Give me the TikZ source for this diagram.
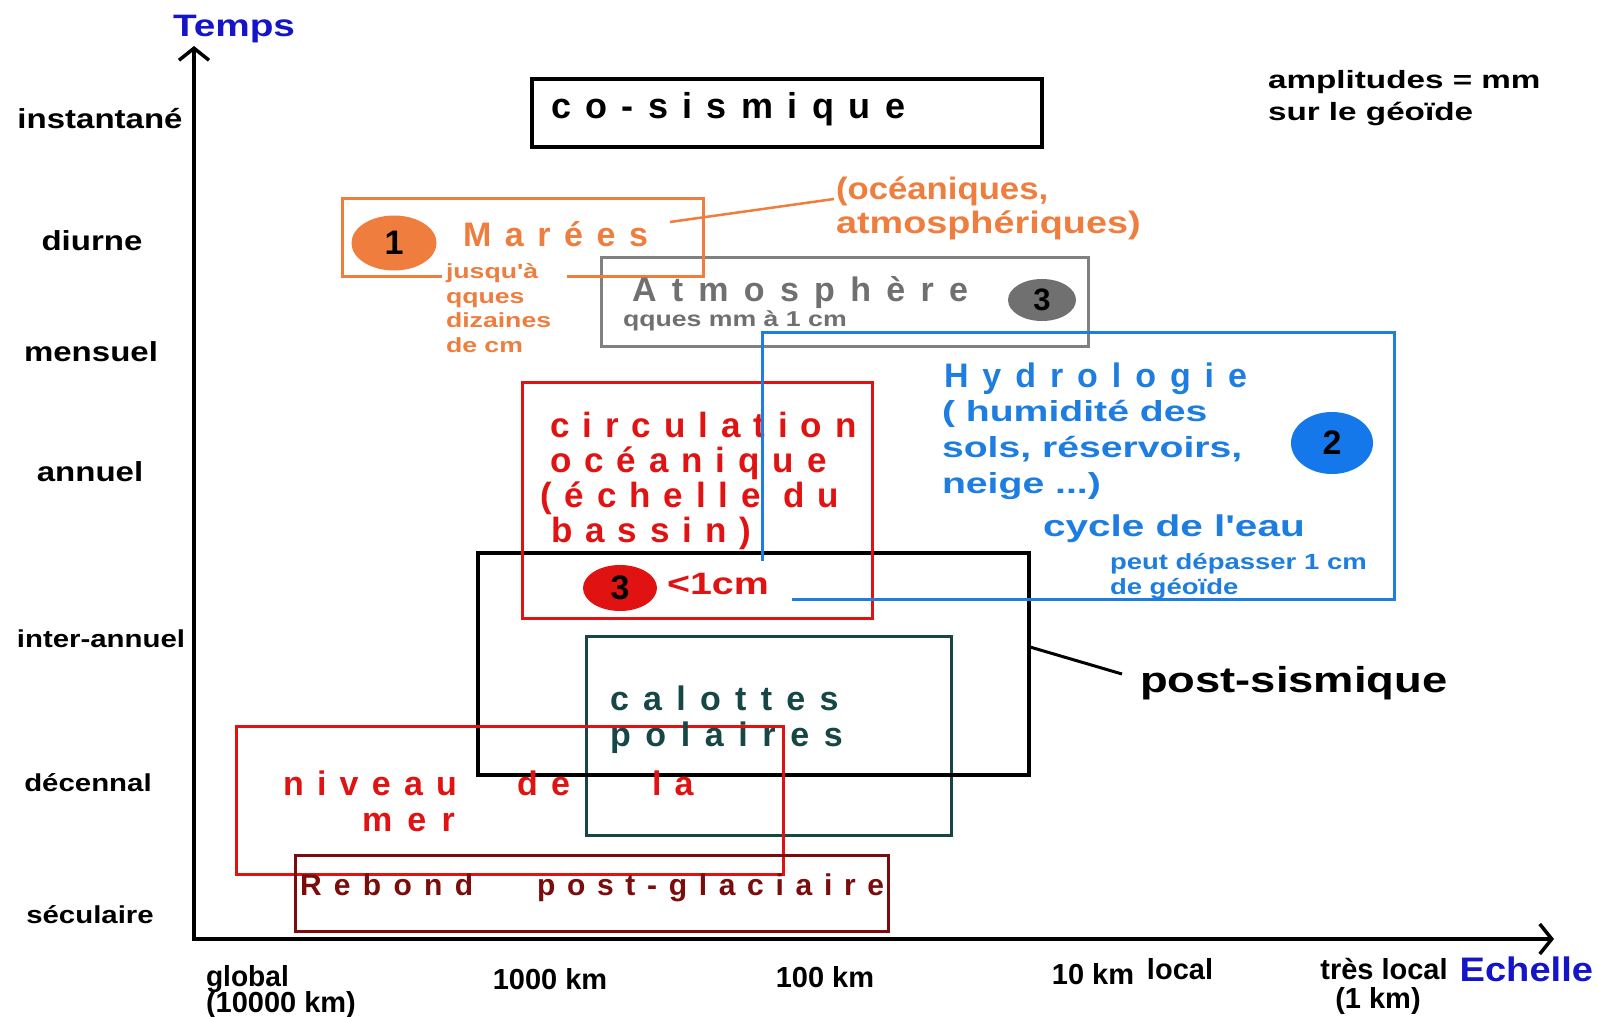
\documentclass[tikz,border=0pt]{standalone}
\usepackage{fontspec}
\setmainfont{Liberation Sans}[Ligatures=TeXOff]
\usetikzlibrary{arrows.meta,shapes.geometric}
\definecolor{oran}{RGB}{238,125,62}
\definecolor{grayb}{RGB}{128,128,128}
\definecolor{grayt}{RGB}{112,112,112}
\definecolor{blu}{RGB}{30,125,225}
\definecolor{blud}{RGB}{20,120,235}
\definecolor{redd}{RGB}{225,18,18}
\definecolor{tealc}{RGB}{22,70,70}
\definecolor{dred}{RGB}{122,12,12}
\definecolor{axblue}{RGB}{20,20,200}
\newcommand\fsz[1]{\fontsize{#1}{#1}\selectfont}
\newcommand\lsp[1]{\addfontfeatures{LetterSpace=#1}}
\begin{document}
\begin{tikzpicture}[x=1pt,y=-1pt,
  T/.style={inner sep=0pt,outer sep=0pt,anchor=base west},
  C/.style={inner sep=0pt,outer sep=0pt,anchor=base},
  bx/.style={line width=3pt},
  ax/.style={line width=3.5pt},
  badge/.style={ellipse,inner sep=0pt,font=\bfseries\fsz{34}}]
\useasboundingbox[fill=white] (0,0) rectangle (1598,1017);

% ---------- boxes ----------
\draw[bx,tealc] (586,636) rectangle (951,835);
\draw[ax,black] (478,553) rectangle (1029,775);
\draw[bx,redd] (236,726) rectangle (783,874);
\draw[bx,dred] (295,855) rectangle (888,931);
\draw[bx,redd] (522,382) rectangle (872,618);
\draw[bx,grayb] (601,257) rectangle (1088,346);
\draw[bx,oran] (442,276) -- (342,276) -- (342,198) -- (703,198) -- (703,276) -- (567,276);
\draw[ax,black] (532,79) rectangle (1042,147);

% ---------- axes ----------
\coordinate (orig) at (194,939);
\coordinate (ytip) at (194,46);
\coordinate (xtip) at (1554,939);
\draw[ax,{Straight Barb[length=12pt,width=30pt]}-{Straight Barb[length=12pt,width=30pt]}] (ytip) -- (orig) -- (xtip);

\node[T,font=\bfseries\fsz{31},text=axblue,xscale=1.25] (temps) at (173,36) {Temps};
\node[T,anchor=base east,font=\bfseries\fsz{34},text=axblue,xscale=1.12] (echelle) at (1593,981) {Echelle};

% ---------- time labels ----------
\node[C,font=\bfseries\fsz{27.5},xscale=1.2] (t1) at (100,128) {instantané};
\node[C,font=\bfseries\fsz{27.5},xscale=1.2] (t2) at (92,250) {diurne};
\node[C,font=\bfseries\fsz{27.5},xscale=1.2] (t3) at (91,361) {mensuel};
\node[C,font=\bfseries\fsz{27.5},xscale=1.2] (t4) at (90,481) {annuel};
\node[C,font=\bfseries\fsz{24.5},xscale=1.2] (t5) at (101,647) {inter-annuel};
\node[C,font=\bfseries\fsz{24.5},xscale=1.2] (t6) at (88,791) {décennal};
\node[C,font=\bfseries\fsz{24.5},xscale=1.2] (t7) at (90,923) {séculaire};

% ---------- scale labels ----------
\node[T,font=\bfseries\fsz{29},xscale=0.97] (s1a) at (206,986) {global};
\node[T,font=\bfseries\fsz{29},xscale=1.0] (s1b) at (206,1012) {(10000 km)};
\node[C,font=\bfseries\fsz{29},xscale=1.0] (s2) at (550,989) {1000 km};
\node[C,font=\bfseries\fsz{29},xscale=1.0] (s3) at (825,987) {100 km};
\node[C,font=\bfseries\fsz{29},xscale=1.0] (s4) at (1093,984) {10 km};
\node[C,font=\bfseries\fsz{29},xscale=1.0] (s5) at (1180,979) {local};
\node[C,font=\bfseries\fsz{29},xscale=1.0] (s6a) at (1384,979) {très local};
\node[C,font=\bfseries\fsz{29},xscale=1.0] (s6b) at (1378,1008) {(1 km)};

% ---------- note ----------
\node[T,font=\bfseries\fsz{25},xscale=1.33] (amp1) at (1268,88) {amplitudes = mm};
\node[T,font=\bfseries\fsz{25},xscale=1.33] (amp2) at (1268,120) {sur le géoïde};

% ---------- co-sismique ----------
\node[T,font=\bfseries\fsz{36}\lsp{40}] (cosis) at (551,118) {co-sismique};

% ---------- marées ----------
\node[badge,fill=oran,minimum width=85pt,minimum height=55pt] (b1) at (394,243) {1};
\node[T,text=oran,font=\bfseries\fsz{34}\lsp{40}] (maree) at (463,246) {Marées};
\node[T,text=oran,font=\bfseries\fsz{20.5},xscale=1.3] (j1) at (446,278) {jusqu'à};
\node[T,text=oran,font=\bfseries\fsz{20.5},xscale=1.3] (j2) at (446,303) {qques};
\node[T,text=oran,font=\bfseries\fsz{20.5},xscale=1.3] (j3) at (446,327) {dizaines};
\node[T,text=oran,font=\bfseries\fsz{20.5},xscale=1.3] (j4) at (446,352) {de cm};
\coordinate (mc) at (670,222);
\coordinate (oc) at (834,199);
\draw[oran,line width=2.5pt] (mc) -- (oc);
\node[T,text=oran,font=\bfseries\fsz{31},xscale=1.12] (oce1) at (836,199) {(océaniques,};
\node[T,text=oran,font=\bfseries\fsz{31},xscale=1.22] (oce2) at (836,233) {atmosphériques)};

% ---------- atmosphère ----------
\node[T,text=grayt,font=\bfseries\fsz{34}\lsp{45}] (atm) at (632,301) {Atmosphère};
\node[T,text=grayt,font=\bfseries\fsz{21.5},xscale=1.24] (atm2) at (623,326) {qques mm à 1 cm};
\node[badge,fill=grayt,minimum width=68pt,minimum height=42pt,font=\bfseries\fsz{31}] (b3g) at (1042,300) {3};

% ---------- circulation ----------
\node[T,text=redd,font=\bfseries\fsz{35}\lsp{37}] (ci1) at (550,437) {circulation};
\node[T,text=redd,font=\bfseries\fsz{35}\lsp{37}] (ci2) at (550,472) {océanique};
\node[T,text=redd,font=\bfseries\fsz{35}\lsp{37}] (ci3) at (540,507) {(échelle du};
\node[T,text=redd,font=\bfseries\fsz{35}\lsp{37}] (ci4) at (551,542) {bassin)};
\node[badge,fill=redd,minimum width=74pt,minimum height=46pt] (b3r) at (620,588) {3};
\node[T,text=redd,font=\bfseries\fsz{31},xscale=1.27] (lt) at (667,594) {<1cm};

% ---------- hydrologie ----------
\draw[bx,blu] (762,561) -- (762,332) -- (1394,332) -- (1394,599) -- (792,599);
\node[T,text=blu,font=\bfseries\fsz{34}\lsp{41}] (hyd) at (944,387) {Hydrologie};
\node[T,text=blu,font=\bfseries\fsz{29},xscale=1.35] (h1) at (942,421) {( humidité des};
\node[T,text=blu,font=\bfseries\fsz{29},xscale=1.35] (h2) at (942,457) {sols, réservoirs,};
\node[T,text=blu,font=\bfseries\fsz{29},xscale=1.35] (h3) at (942,493) {neige ...)};
\node[T,text=blu,font=\bfseries\fsz{30},xscale=1.35] (cyc) at (1043,536) {cycle de l'eau};
\node[T,text=blu,font=\bfseries\fsz{22},xscale=1.25] (pd1) at (1110,569) {peut dépasser 1 cm};
\node[T,text=blu,font=\bfseries\fsz{22},xscale=1.25] (pd2) at (1110,594) {de géoïde};
\node[badge,fill=blud,minimum width=82pt,minimum height=62pt] (b2) at (1332,443) {2};

% ---------- post-sismique ----------
\coordinate (ps1) at (1030,647);
\coordinate (ps2) at (1122,674);
\draw[line width=3pt] (ps1) -- (ps2);
\node[T,font=\bfseries\fsz{36},xscale=1.26] (post) at (1140,692) {post-sismique};

% ---------- calottes ----------
\node[T,text=tealc,font=\bfseries\fsz{34}\lsp{42}] (cal1) at (610,710) {calottes};
\node[T,text=tealc,font=\bfseries\fsz{34}\lsp{43}] (cal2) at (610,746) {polaires};

% ---------- niveau de la mer ----------
\node[T,text=redd,font=\bfseries\fsz{34}\lsp{39}] (nv1) at (283,795) {niveau};
\node[T,text=redd,font=\bfseries\fsz{34}\lsp{39}] (nv2) at (517,795) {de};
\node[T,text=redd,font=\bfseries\fsz{34}\lsp{39}] (nv3) at (652,795) {la};
\node[T,text=redd,font=\bfseries\fsz{34}\lsp{45}] (nv4) at (362,831) {mer};

% ---------- rebond ----------
\node[T,text=dred,font=\bfseries\fsz{30}\lsp{41}] (rb1) at (300,895) {Rebond};
\node[T,text=dred,font=\bfseries\fsz{30}\lsp{39}] (rb2) at (537,895) {post-glaciaire};
\end{tikzpicture}
\end{document}
